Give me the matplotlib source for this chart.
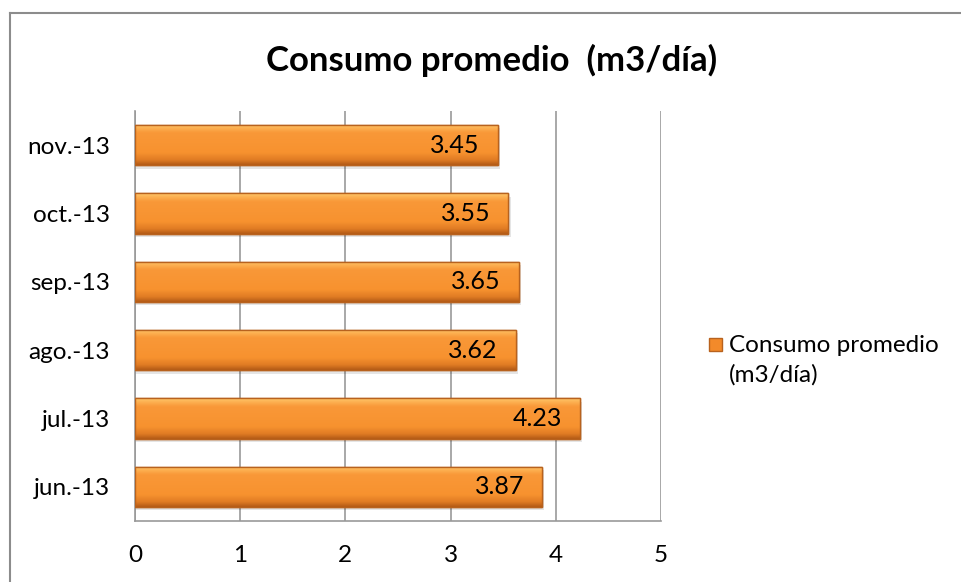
import numpy as np
import matplotlib
matplotlib.use("Agg")
import matplotlib.pyplot as plt
from matplotlib.colors import LinearSegmentedColormap
from matplotlib.patches import Rectangle
from matplotlib.lines import Line2D

plt.rcParams['font.family'] = ['Lato', 'DejaVu Sans']

meses = ['jun.-13', 'jul.-13', 'ago.-13', 'sep.-13', 'oct.-13', 'nov.-13']
consumo = [3.87, 4.23, 3.62, 3.65, 3.55, 3.45]
etiquetas = ['3.87', '4.23', '3.62', '3.65', '3.55', '3.45']
serie = 'Consumo promedio\n(m3/día)'
titulo = 'Consumo promedio  (m3/día)'

fig = plt.figure(figsize=(9.61, 5.82), dpi=100)
ax = fig.add_axes([135 / 961, 1 - 521 / 582, (661 - 135) / 961, (521 - 111) / 582])

y = np.arange(len(meses))
bars = ax.barh(y, consumo, height=0.59, color='#F7922F', edgecolor='#B8621E',
               linewidth=1.0, zorder=3, label=serie)

# gradient fill on each bar (dark bottom, orange body, light top)
grad = LinearSegmentedColormap.from_list(
    'naranja', [(0, '#B45A16'), (0.12, '#E07C24'), (0.3, '#F7922F'),
                (0.8, '#F99838'), (0.93, '#FDB556'), (1, '#FFC86C')])
g = np.linspace(0, 1, 64).reshape(-1, 1)
for b in bars:
    x0, y0 = b.get_x(), b.get_y()
    w, h = b.get_width(), b.get_height()
    # soft shadow below bar
    ax.add_patch(Rectangle((x0, y0 - 0.05), w + 0.02, h, facecolor='#000000', alpha=0.10,
                           edgecolor='none', zorder=2))
    im = ax.imshow(g, extent=[x0, x0 + w, y0, y0 + h], origin='lower', cmap=grad,
                   aspect='auto', zorder=3.5, interpolation='bicubic')
    im.set_clip_path(b)
    ax.add_patch(Rectangle((x0, y0), w, h, facecolor='none', edgecolor='#B8621E',
                           linewidth=1.0, zorder=4))

for yi, v, t in zip(y, consumo, etiquetas):
    ax.annotate(t, (v, yi), xytext=(-13, 0), textcoords='offset points',
                ha='right', va='center', fontsize=18, color='#000000', zorder=5)

ax.set_xlim(0, 5)
ax.set_ylim(-0.5, len(meses) - 0.5)
ax.set_xticks(range(6))
ax.set_yticks(y)
ax.set_yticklabels(meses)
ax.tick_params(axis='both', length=0, labelsize=17.5)
ax.tick_params(axis='x', pad=17)
ax.tick_params(axis='y', pad=18)
ax.grid(axis='x', color='#999999', linewidth=1.2, zorder=0)
ax.set_axisbelow(True)
for s in ['top', 'right']:
    ax.spines[s].set_visible(False)
for s in ['left', 'bottom']:
    ax.spines[s].set_color('#999999')
    ax.spines[s].set_linewidth(1.2)

fig.text(492 / 961, 1 - 60 / 582, titulo, ha='center', va='center',
         fontsize=25, fontweight='bold')

# legend: text from ax.legend, marker placed next to the first line
handle = Rectangle((0, 0), 1, 1, facecolor='#F38A2A', edgecolor='#B8621E')
leg = ax.legend([handle], [serie], loc='center left', bbox_to_anchor=(694 / 961, 1 - 360 / 582),
                bbox_transform=fig.transFigure, frameon=False, fontsize=17.5,
                handlelength=0.7, handleheight=0.7, handletextpad=0.25, borderpad=0)
for t in leg.get_texts():
    t.set_linespacing(1.45)
leg.legend_handles[0].set_visible(False)
fig.add_artist(Rectangle((709 / 961, 1 - 351 / 582), 13 / 961, 13 / 582,
                         transform=fig.transFigure, facecolor='#F38A2A',
                         edgecolor='#B8621E', linewidth=1.0))

# chart border (cut off at right and bottom)
fig.add_artist(Line2D([10 / 961, 10 / 961], [0, 1 - 12.5 / 582], transform=fig.transFigure,
                      color='#8C8C8C', linewidth=1.5))
fig.add_artist(Line2D([10 / 961, 1], [1 - 12.5 / 582, 1 - 12.5 / 582], transform=fig.transFigure,
                      color='#8C8C8C', linewidth=1.5))

fig.savefig('out.png', dpi=100)
